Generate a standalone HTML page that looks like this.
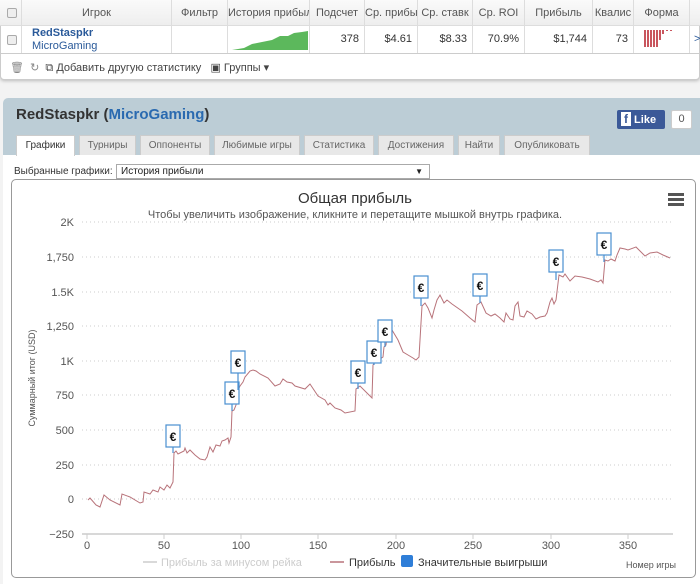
<!DOCTYPE html>
<html><head><meta charset="utf-8"><style>
*{margin:0;padding:0;box-sizing:border-box}
body{width:700px;height:584px;overflow:hidden;background:#f3f3f3;font-family:"Liberation Sans","DejaVu Sans",sans-serif;position:relative;font-size:11px;color:#333}
.a{position:absolute}
.th{position:absolute;top:0;height:26px;line-height:26px;text-align:center;color:#555;font-size:11px;border-right:1px solid #ddd;overflow:hidden;white-space:nowrap}
.td{position:absolute;top:26px;height:27px;line-height:27px;text-align:right;padding-right:5px;font-size:11px;color:#333;border-right:1px solid #ddd;overflow:hidden;white-space:nowrap}
.tab{position:absolute;top:135px;height:20px;line-height:20px;background:#e8e8e8;border:1px solid #ccc;border-bottom:none;font-size:10px;color:#666;text-align:center}
.cb{position:absolute;width:10px;height:10px;border:1px solid #aaa;border-radius:2px;background:#eee}
</style></head><body>
<div class="a" style="left:0;top:0;width:700px;height:80px;background:#fff;border:1px solid #ccc;border-radius:0 0 4px 4px;box-shadow:0 1px 3px #bbb"></div>
<div class="a" style="left:0;top:0;width:700px;height:26px;background:linear-gradient(#fafafa,#eee);border-bottom:1px solid #ddd"></div>
<div class="th" style="left:0;width:22px"></div><div class="cb" style="left:7px;top:8px"></div>
<div class="th" style="left:22px;width:150px">Игрок</div>
<div class="th" style="left:172px;width:56px">Фильтр</div>
<div class="th" style="left:228px;width:82px">История прибыль</div>
<div class="th" style="left:310px;width:55px">Подсчет</div>
<div class="th" style="left:365px;width:53px">Ср. прибыль</div>
<div class="th" style="left:418px;width:55px">Ср. ставк</div>
<div class="th" style="left:473px;width:52px">Ср. ROI</div>
<div class="th" style="left:525px;width:68px">Прибыль</div>
<div class="th" style="left:593px;width:41px">Квалис</div>
<div class="th" style="left:634px;width:56px">Форма</div>
<div class="a" style="left:0;top:53px;width:700px;height:1px;background:#ccc"></div>
<div class="td" style="left:0;width:22px"></div><div class="cb" style="left:7px;top:35px"></div>
<div class="td" style="left:22px;width:150px;text-align:left;padding-left:10px;line-height:13px;padding-top:1px"><b style="color:#2a5a9a">RedStaspkr</b><br><span style="color:#2a5a9a">MicroGaming</span></div>
<div class="td" style="left:172px;width:56px"></div>
<div class="td" style="left:228px;width:82px"><svg class="a" style="left:4px;top:4px" width="76" height="20"><polygon points="0,20 12,18 20,14 30,12 40,10 48,6 56,6 62,3 70,2 76,1 76,20" fill="#5cb85c"/></svg></div>
<div class="td" style="left:310px;width:55px">378</div>
<div class="td" style="left:365px;width:53px">$4.61</div>
<div class="td" style="left:418px;width:55px">$8.33</div>
<div class="td" style="left:473px;width:52px">70.9%</div>
<div class="td" style="left:525px;width:68px">$1,744</div>
<div class="td" style="left:593px;width:41px">73</div>
<div class="td" style="left:634px;width:56px"><svg class="a" style="left:10px;top:4px" width="36" height="20"><g fill="#c9565e"><rect x="0" y="0" width="2" height="17"/><rect x="3" y="0" width="2" height="17"/><rect x="6" y="0" width="2" height="17"/><rect x="9" y="0" width="2" height="17"/><rect x="12" y="0" width="2" height="17"/><rect x="15" y="0" width="2" height="10"/><rect x="18" y="0" width="2" height="4"/><rect x="22" y="0" width="2" height="1"/><rect x="26" y="0" width="2" height="1"/></g></svg></div>
<div class="a" style="left:694px;top:33px;color:#2a5a9a">&gt;</div>
<div class="a" style="left:10px;top:61px;color:#888;font-size:11px">🗑 &nbsp;↻ &nbsp;<span style="color:#444">⧉ Добавить другую статистику &nbsp; ▣ Группы ▾</span></div>

<div class="a" style="left:3px;top:98px;width:697px;height:486px;background:#fff;border-radius:5px 0 0 0"></div>
<div class="a" style="left:3px;top:98px;width:697px;height:57px;background:#bccdd6;border-radius:5px 0 0 0"></div>
<div class="a" style="left:16px;top:106px;font-size:15px;font-weight:bold;color:#333">RedStaspkr (<span style="color:#2a6ab0">MicroGaming</span>)</div>
<div class="a" style="left:617px;top:110px;width:48px;height:19px;background:#3b5998;border-radius:2px;color:#fff;font-weight:bold;font-size:11px;line-height:19px;padding-left:4px"><span style="background:#fff;color:#3b5998;padding:0 3px;font-size:12px">f</span> Like</div>
<div class="a" style="left:671px;top:110px;width:21px;height:19px;background:#fff;border:1px solid #ccc;border-radius:2px;text-align:center;line-height:17px;font-size:11px;color:#555">0</div>
<div class="tab" style="left:16px;width:59px;background:#fff;color:#333;height:21px">Графики</div>
<div class="tab" style="left:79px;width:57px">Турниры</div>
<div class="tab" style="left:140px;width:70px">Оппоненты</div>
<div class="tab" style="left:214px;width:86px">Любимые игры</div>
<div class="tab" style="left:304px;width:70px">Статистика</div>
<div class="tab" style="left:378px;width:76px">Достижения</div>
<div class="tab" style="left:458px;width:42px">Найти</div>
<div class="tab" style="left:504px;width:86px">Опубликовать</div>
<div class="a" style="left:14px;top:166px;font-size:10px;color:#333">Выбранные графики:</div>
<div class="a" style="left:116px;top:164px;width:314px;height:15px;border:1px solid #aaa;font-size:10px;line-height:13px;padding-left:4px;color:#222">История прибыли<span style="position:absolute;right:6px;font-size:8px">▼</span></div>

<div class="a" style="left:11px;top:179px;width:685px;height:399px;border:1px solid #999;border-radius:5px;background:#fff"></div>
<svg class="a" style="left:0;top:0" width="700" height="584" font-family="Liberation Sans, DejaVu Sans, sans-serif">
<text x="355" y="203" text-anchor="middle" font-size="15" fill="#333">Общая прибыль</text>
<text x="355" y="218" text-anchor="middle" font-size="11" fill="#555">Чтобы увеличить изображение, кликните и перетащите мышкой внутрь графика.</text>
<g fill="#555"><rect x="668" y="193" width="16" height="3"/><rect x="668" y="198" width="16" height="3"/><rect x="668" y="203" width="16" height="3"/></g>
<g stroke="#ccc" stroke-dasharray="1,3" stroke-width="1">
<line x1="82" y1="222" x2="673" y2="222"/><line x1="82" y1="257" x2="673" y2="257"/><line x1="82" y1="292" x2="673" y2="292"/><line x1="82" y1="326" x2="673" y2="326"/><line x1="82" y1="361" x2="673" y2="361"/><line x1="82" y1="395" x2="673" y2="395"/><line x1="82" y1="430" x2="673" y2="430"/><line x1="82" y1="465" x2="673" y2="465"/><line x1="82" y1="499" x2="673" y2="499"/>
</g>
<line x1="82" y1="534" x2="673" y2="534" stroke="#ccc" stroke-width="1.5"/>
<g font-size="11" fill="#555" text-anchor="end">
<text x="74" y="226">2K</text><text x="74" y="261">1,750</text><text x="74" y="296">1.5K</text><text x="74" y="330">1,250</text><text x="74" y="365">1K</text><text x="74" y="399">750</text><text x="74" y="434">500</text><text x="74" y="469">250</text><text x="74" y="503">0</text><text x="74" y="538">−250</text>
</g>
<g font-size="11" fill="#555" text-anchor="middle">
<text x="87" y="549">0</text><text x="164" y="549">50</text><text x="241" y="549">100</text><text x="318" y="549">150</text><text x="396" y="549">200</text><text x="473" y="549">250</text><text x="551" y="549">300</text><text x="628" y="549">350</text>
</g>
<g stroke="#ccc"><line x1="87" y1="534" x2="87" y2="539"/><line x1="164" y1="534" x2="164" y2="539"/><line x1="241" y1="534" x2="241" y2="539"/><line x1="318" y1="534" x2="318" y2="539"/><line x1="396" y1="534" x2="396" y2="539"/><line x1="473" y1="534" x2="473" y2="539"/><line x1="551" y1="534" x2="551" y2="539"/><line x1="628" y1="534" x2="628" y2="539"/></g>
<text transform="translate(35,378) rotate(-90)" text-anchor="middle" font-size="9" fill="#555">Суммарный итог (USD)</text>
<polyline fill="none" stroke="#b8737a" stroke-width="1" points="88,500 90,498 96,505 100,507 104,495 110,500 120,505 122,494 130,497 140,503 143,502 144,492 150,494 153,490 158,492 160,487 164,490 167,485 170,488 173,482 174,453 176,451 178,454 184,451 185,448 187,453 190,450 195,455 200,459 205,460 207,457 210,447 213,452 216,445 220,446 222,441 225,440 228,438 229,443 231,437 232,411 234,410 236,405 238,390 240,386 243,382 245,377 250,371 253,370 256,371 260,374 268,378 275,386 280,384 283,379 287,382 292,383 295,386 305,389 310,384 318,396 325,400 328,405 330,403 335,408 341,410 345,413 355,411 356,389 360,386 368,394 372,398 373,365 375,362 383,357 384,347 386,345 387,336 392,330 398,340 403,352 408,355 413,358 416,360 419,357 422,306 425,303 428,308 432,318 434,310 437,300 440,295 444,303 447,300 452,304 462,311 470,318 475,322 477,305 481,302 486,313 491,316 495,314 500,318 504,322 506,313 510,319 513,320 515,306 518,302 520,316 524,317 527,311 532,314 536,319 540,317 545,316 547,313 550,302 552,298 554,304 556,300 559,275 563,277 565,274 570,281 575,276 582,277 590,279 598,282 601,280 603,283 605,260 608,261 611,259 615,261 617,255 620,248 625,249 628,250 636,247 643,254 645,256 650,253 657,252 663,255 670,258"/>
<g stroke="#4a8fd0" fill="#fff" stroke-width="1.2">
<line x1="173" y1="447" x2="173" y2="453"/><rect x="166" y="425" width="14" height="22"/>
<line x1="232" y1="404" x2="232" y2="411"/><rect x="225" y="382" width="14" height="22"/>
<line x1="238" y1="373" x2="238" y2="390"/><rect x="231" y="351" width="14" height="22"/>
<line x1="358" y1="383" x2="358" y2="389"/><rect x="351" y="361" width="14" height="22"/>
<line x1="374" y1="363" x2="374" y2="365"/><rect x="367" y="341" width="14" height="22"/>
<line x1="385" y1="342" x2="385" y2="347"/><rect x="378" y="320" width="14" height="22"/>
<line x1="421" y1="298" x2="421" y2="306"/><rect x="414" y="276" width="14" height="22"/>
<line x1="480" y1="296" x2="480" y2="303"/><rect x="473" y="274" width="14" height="22"/>
<line x1="556" y1="272" x2="556" y2="280"/><rect x="549" y="250" width="14" height="22"/>
<line x1="604" y1="255" x2="604" y2="262"/><rect x="597" y="233" width="14" height="22"/>
</g>
<g font-size="12" font-weight="bold" fill="#111" text-anchor="middle">
<text x="173" y="441">€</text><text x="232" y="398">€</text><text x="238" y="367">€</text><text x="358" y="377">€</text><text x="374" y="357">€</text><text x="385" y="336">€</text><text x="421" y="292">€</text><text x="480" y="290">€</text><text x="556" y="266">€</text><text x="604" y="249">€</text>
</g>
<line x1="143" y1="562" x2="157" y2="562" stroke="#ccc" stroke-width="1.5"/>
<text x="161" y="566" font-size="11" fill="#ccc">Прибыль за минусом рейка</text>
<line x1="330" y1="562" x2="344" y2="562" stroke="#b8737a" stroke-width="1.5"/>
<text x="349" y="566" font-size="11" fill="#333">Прибыль</text>
<rect x="401" y="555" width="12" height="12" rx="2" fill="#2f7ed8"/>
<text x="418" y="566" font-size="11" fill="#333">Значительные выигрыши</text>
<text x="676" y="568" text-anchor="end" font-size="9" fill="#555">Номер игры</text>
</svg>
</body></html>
